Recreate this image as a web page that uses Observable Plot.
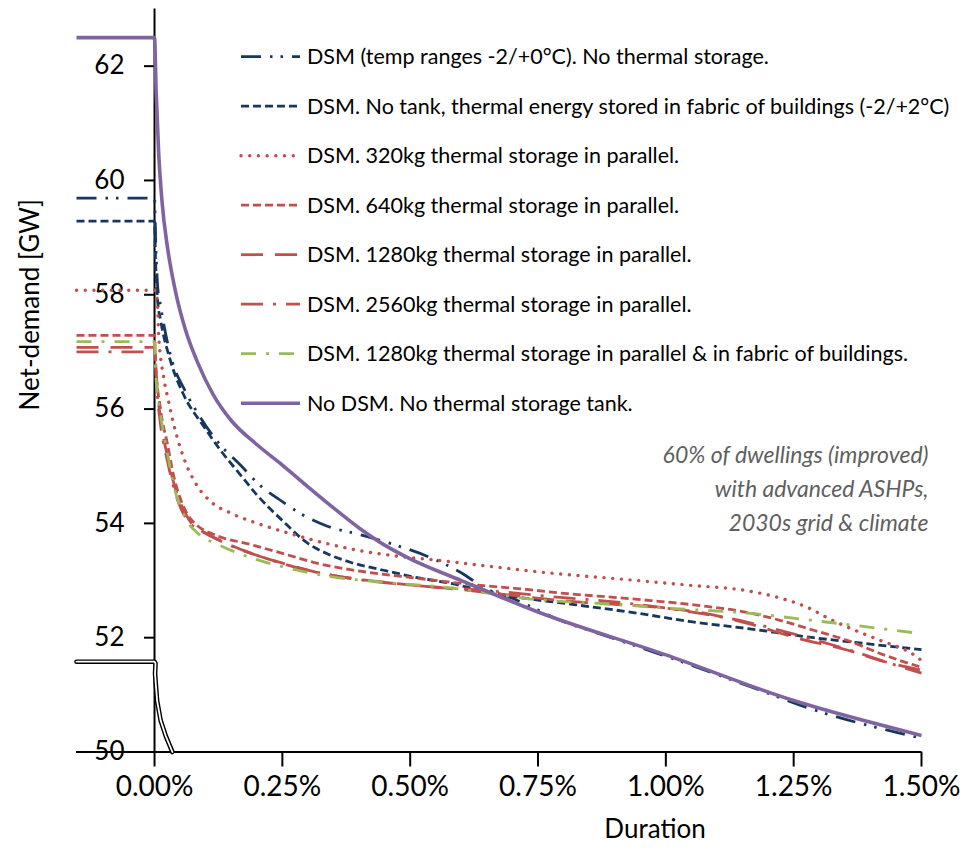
<!DOCTYPE html>
<html><head><meta charset="utf-8">
<script src="https://cdn.jsdelivr.net/npm/d3@7"></script>
<script src="https://cdn.jsdelivr.net/npm/@observablehq/plot@0.6"></script>
<style>
body{margin:0;background:#fff;}
#chart{width:966px;height:855px;}
</style></head><body><div id="chart"></div>
<script>
// ---- data (x = duration in %, y = net-demand in GW) ----
const xTicks = [0, 0.25, 0.5, 0.75, 1.0, 1.25, 1.5];
const yTicks = [50, 52, 54, 56, 58, 60, 62];
const xMin = -0.1526, xMax = 1.5, yMin = 50, yMax = 63;

const dsmTemp = [[-0.1526,59.69],[0,59.69],[0.002,59.0],[0.004,58.5],[0.006,58.16],[0.012,57.80],[0.031,56.95],[0.061,56.30],[0.090,55.85],[0.124,55.42],[0.168,55.02],[0.207,54.66],[0.250,54.38],[0.286,54.17],[0.338,53.95],[0.403,53.80],[0.468,53.63],[0.540,53.40],[0.599,53.14],[0.644,52.88],[0.710,52.65],[0.755,52.46],[0.794,52.30],[0.853,52.12],[1.015,51.63],[1.160,51.16],[1.289,50.74],[1.500,50.24]];
const dsmFabric = [[-0.1526,59.29],[0,59.29],[0.002,58.60],[0.006,57.90],[0.012,57.55],[0.031,56.85],[0.057,56.25],[0.096,55.70],[0.129,55.28],[0.168,54.85],[0.200,54.50],[0.250,54.05],[0.300,53.65],[0.340,53.46],[0.383,53.32],[0.448,53.18],[0.514,53.05],[0.579,52.95],[0.644,52.82],[0.710,52.71],[0.820,52.58],[0.951,52.42],[1.049,52.28],[1.160,52.16],[1.289,52.00],[1.387,51.90],[1.500,51.79]];
const tank320 = [[-0.1526,58.08],[0,58.08],[0.005,57.95],[0.008,57.32],[0.018,56.55],[0.027,56.15],[0.037,55.75],[0.057,55.15],[0.084,54.65],[0.110,54.38],[0.149,54.18],[0.201,54.00],[0.266,53.82],[0.331,53.66],[0.397,53.53],[0.481,53.42],[0.559,53.35],[0.644,53.26],[0.775,53.13],[0.906,53.03],[1.043,52.92],[1.160,52.82],[1.225,52.69],[1.277,52.53],[1.322,52.32],[1.367,52.14],[1.420,51.95],[1.485,51.70],[1.500,51.60]];
const tank640 = [[-0.1526,57.29],[0,57.29],[0.002,56.85],[0.012,55.98],[0.025,55.40],[0.037,54.85],[0.051,54.42],[0.065,54.15],[0.084,53.96],[0.115,53.81],[0.188,53.63],[0.252,53.47],[0.319,53.30],[0.383,53.19],[0.448,53.11],[0.514,53.04],[0.579,52.97],[0.644,52.91],[0.710,52.86],[0.808,52.77],[0.906,52.70],[0.970,52.65],[1.049,52.58],[1.160,52.44],[1.225,52.30],[1.289,52.13],[1.356,51.95],[1.420,51.72],[1.500,51.48]];
const tank1280 = [[-0.1526,57.08],[0,57.08],[0.004,56.50],[0.012,55.80],[0.025,55.19],[0.039,54.66],[0.053,54.31],[0.067,54.07],[0.090,53.88],[0.129,53.70],[0.188,53.48],[0.252,53.30],[0.319,53.14],[0.383,53.04],[0.448,52.97],[0.514,52.91],[0.579,52.86],[0.690,52.75],[0.820,52.63],[0.984,52.53],[1.068,52.44],[1.160,52.25],[1.258,51.99],[1.356,51.78],[1.420,51.60],[1.500,51.43]];
const tank2560 = [[-0.1526,57.00],[0,57.00],[0.004,56.41],[0.012,55.71],[0.025,55.10],[0.039,54.58],[0.053,54.23],[0.070,54.00],[0.100,53.83],[0.149,53.61],[0.207,53.42],[0.286,53.21],[0.383,53.04],[0.514,52.91],[0.644,52.83],[0.775,52.72],[0.906,52.62],[1.029,52.48],[1.160,52.27],[1.264,52.03],[1.361,51.78],[1.446,51.53],[1.500,51.38]];
const tank1280Fabric = [[-0.1526,57.18],[0,57.18],[0.002,56.68],[0.012,55.89],[0.025,55.24],[0.039,54.61],[0.053,54.23],[0.065,54.02],[0.090,53.79],[0.129,53.61],[0.188,53.40],[0.266,53.21],[0.344,53.07],[0.448,52.97],[0.559,52.89],[0.755,52.66],[0.886,52.59],[1.015,52.51],[1.160,52.43],[1.289,52.30],[1.420,52.16],[1.500,52.07]];
const noDSM = [[-0.1526,62.5],[0,62.5],[0.003,61.6],[0.008,60.5],[0.015,59.6],[0.025,58.85],[0.040,58.1],[0.060,57.4],[0.085,56.8],[0.115,56.25],[0.150,55.8],[0.200,55.38],[0.250,55.02],[0.300,54.64],[0.350,54.27],[0.400,53.92],[0.450,53.62],[0.500,53.38],[0.600,53.00],[0.750,52.45],[1.000,51.70],[1.250,50.90],[1.500,50.29]];
const axisBreak = [[-0.1526,51.58],[0.0,51.58],[0.002,51.55],[0.001,51.37],[0.005,50.9],[0.012,50.55],[0.022,50.28],[0.035,50.0]];

const seriesNames = [
  "DSM (temp ranges -2/+0°C). No thermal storage.",
  "DSM. No tank, thermal energy stored in fabric of buildings (-2/+2°C)",
  "DSM. 320kg thermal storage in parallel.",
  "DSM. 640kg thermal storage in parallel.",
  "DSM. 1280kg thermal storage in parallel.",
  "DSM. 2560kg thermal storage in parallel.",
  "DSM. 1280kg thermal storage in parallel & in fabric of buildings.",
  "No DSM. No thermal storage tank."
];
const seriesData = [dsmTemp, dsmFabric, tank320, tank640, tank1280, tank2560, tank1280Fabric, noDSM];
const annotation = "60% of dwellings (improved)\nwith advanced ASHPs,\n2030s grid & climate";

// ---- styles ----
const NAVY = "#17375E", RED = "#C0504D", GREEN = "#9BBB59", PURPLE = "#8064A2";
const seriesStyles = [
  {stroke: NAVY, width: 2.8, dash: "20,9,2.5,8,2.5,9", cap: "butt"},
  {stroke: NAVY, width: 2.8, dash: "8,4", cap: "butt"},
  {stroke: RED, width: 3.4, dash: "0.1,8.6", cap: "round"},
  {stroke: RED, width: 2.8, dash: "8,4", cap: "butt"},
  {stroke: RED, width: 2.8, dash: "22,12", cap: "butt"},
  {stroke: RED, width: 2.8, dash: "22,10,3,10", cap: "butt"},
  {stroke: GREEN, width: 2.8, dash: "15,10,3,10", cap: "butt"},
  {stroke: PURPLE, width: 3.6, dash: null, cap: "butt"}
];

const W = 966, H = 855, mL = 76, mR = 45, mT = 8.5, mB = 103.5;
const FONT = "Lato, 'Open Sans', sans-serif";

const lineMarks = seriesData.map((d, i) => Plot.line(d, {
  x: p => p[0], y: p => p[1], curve: "monotone-x",
  stroke: seriesStyles[i].stroke, strokeWidth: seriesStyles[i].width,
  strokeDasharray: seriesStyles[i].dash || undefined, strokeLinecap: seriesStyles[i].cap,
  strokeLinejoin: "round"
}));

const chart = Plot.plot({
  width: W, height: H,
  marginLeft: mL, marginRight: mR, marginTop: mT, marginBottom: mB,
  style: {fontFamily: FONT, background: "white", color: "black"},
  x: {domain: [xMin, xMax]},
  y: {domain: [yMin, yMax]},
  marks: [
    Plot.axisX({ticks: xTicks, tickSize: 15, tickPadding: 9, tickFormat: d => d.toFixed(2) + "%", fontSize: 28, strokeWidth: 2, label: null}),
    Plot.axisY({ticks: yTicks, tickSize: 10, tickPadding: 20, fontSize: 26, strokeWidth: 2, label: null}),
    Plot.ruleY([yMin], {stroke: "black", strokeWidth: 2}),
    Plot.ruleX([0], {stroke: "black", strokeWidth: 2}),
    Plot.line(axisBreak, {x: p => p[0], y: p => p[1], stroke: "black", strokeWidth: 4.6}),
    Plot.line(axisBreak, {x: p => p[0], y: p => p[1], stroke: "white", strokeWidth: 1.8}),
    ...lineMarks.slice(0, 7),
    lineMarks[7],
    Plot.text([annotation], {frameAnchor: "top-right", dx: 7, dy: 477, textAnchor: "end", lineAnchor: "middle",
      lineHeight: 1.47, fontSize: 23, fontStyle: "italic", fill: "#5f5f5f"}),
    Plot.text(["Net-demand [GW]"], {frameAnchor: "left", rotate: -90, dx: -46, dy: 30, fontSize: 26, fill: "black"}),
    Plot.text(["Duration"], {frameAnchor: "bottom", dx: 156, dy: 86, fontSize: 26, fill: "black"})
  ]
});

// move y axis to x = 0
const shift = chart.scale("x").apply(0) - mL;
d3.select(chart).selectAll('g[aria-label="y-axis tick"], g[aria-label="y-axis tick label"]').each(function() {
  const t = this.getAttribute("transform") || "";
  this.setAttribute("transform", `translate(${shift},0) ${t}`);
});

// legend
const svg = d3.select(chart);
const lg = svg.append("g").attr("font-family", FONT).attr("text-anchor", "start");
seriesNames.forEach((name, i) => {
  const cy = 56.7 + i * 49.5;
  const s = seriesStyles[i];
  lg.append("line").attr("x1", 241).attr("x2", 300).attr("y1", cy).attr("y2", cy)
    .attr("stroke", s.stroke).attr("stroke-width", s.width)
    .attr("stroke-dasharray", s.dash).attr("stroke-linecap", s.cap);
  lg.append("text").attr("x", 307).attr("y", cy).attr("dy", "0.35em")
    .attr("text-anchor", "start")
    .attr("font-size", 21.5).attr("fill", "black").text(name);
});

document.getElementById("chart").appendChild(chart);
</script>
</body></html>
